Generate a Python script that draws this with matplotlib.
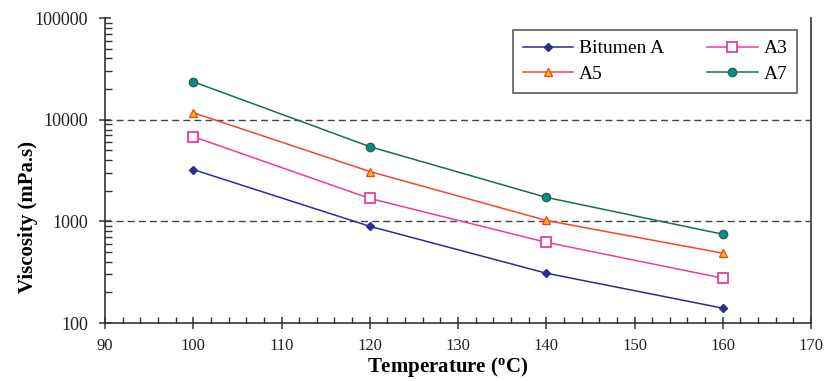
import matplotlib
matplotlib.use("Agg")
import matplotlib.pyplot as plt
from matplotlib.ticker import MultipleLocator, LogLocator, NullFormatter, FixedLocator

plt.rcParams['font.family'] = ['Liberation Serif', 'DejaVu Serif']

temperature = [100, 120, 140, 160]
bitumen_a = [3230, 894, 309, 140]
a3 = [6810, 1680, 622, 276]
a5 = [11700, 3090, 1020, 486]
a7 = [23600, 5430, 1720, 747]
grid_levels = [1000, 10000]
y_ticks = [100, 1000, 10000, 100000]
x_ticks = [90, 100, 110, 120, 130, 140, 150, 160, 170]

fig = plt.figure(figsize=(8.3, 3.81), dpi=100)
ax = fig.add_axes([105/830, 1-323/381, (811-105)/830, (323-18)/381])

ax.set_yscale('log')
ax.set_xlim(90, 170)
ax.set_ylim(100, 100000)

for lvl in grid_levels:
    ax.axhline(lvl, color='#444444', linestyle=(0, (5, 3)), linewidth=1.0, zorder=1)

l1, = ax.plot(temperature, bitumen_a, color='#2e2e8c', marker='D', markersize=4.5,
              markerfacecolor='#2e2e8c', markeredgecolor='#2e2e8c', linewidth=1.1, label='Bitumen A', zorder=3)
l2, = ax.plot(temperature, a3, color='#ec3d9c', marker='s', markersize=7,
              markerfacecolor='white', markeredgecolor='#ec3d9c', markeredgewidth=1.3, linewidth=1.1, label='A3', zorder=3)
l3, = ax.plot(temperature, a5, color='#f2452e', marker='^', markersize=6,
              markerfacecolor='#f5c400', markeredgecolor='#f2452e', linewidth=1.1, label='A5', zorder=3)
l4, = ax.plot(temperature, a7, color='#1f6b4c', marker='o', markersize=6,
              markerfacecolor='#0f8a8a', markeredgecolor='#1f6b4c', linewidth=1.1, label='A7', zorder=3)

ax.spines['top'].set_visible(False)
for s in ['left', 'bottom', 'right']:
    ax.spines[s].set_linewidth(1.2)
    ax.spines[s].set_color('#333333')

ax.xaxis.set_major_locator(FixedLocator(x_ticks))
ax.xaxis.set_minor_locator(MultipleLocator(2))
ax.yaxis.set_major_locator(FixedLocator(y_ticks))
ax.yaxis.set_minor_locator(LogLocator(base=10, subs=range(2, 10)))
ax.yaxis.set_minor_formatter(NullFormatter())
ax.set_yticklabels([str(v) for v in y_ticks])
ax.set_xticklabels([str(v) for v in x_ticks])

ax.tick_params(axis='both', which='major', direction='inout', length=8, width=1.1,
               colors='#333333', labelcolor='#222222')
ax.tick_params(axis='x', which='major', labelsize=12, pad=7)
ax.tick_params(axis='y', which='major', labelsize=13, pad=8)
ax.tick_params(axis='x', which='minor', direction='in', length=4, width=1.0, colors='#333333')
ax.tick_params(axis='y', which='minor', direction='in', length=5, width=1.0, colors='#333333')

ax.set_xlabel('Temperature (' + r'$\mathregular{^o}$' + 'C)', fontsize=15, fontweight='bold')
ax.xaxis.set_label_coords((448-105)/706, (323-355)/305)
ax.set_ylabel('Viscosity (mPa.s)', fontsize=15, fontweight='bold')
ax.yaxis.set_label_coords((38-105)/706, (323-217)/305)

leg = ax.legend(handles=[l1, l3, l2, l4], ncol=2, loc='upper right',
                fontsize=14, frameon=True, fancybox=False, edgecolor='#333333',
                handlelength=2.6, columnspacing=2.2, handletextpad=0.3, borderpad=0.5,
                labelspacing=0.42, borderaxespad=0)
leg.set_bbox_to_anchor((797/830, 1-30/381), transform=fig.transFigure)
leg.get_frame().set_linewidth(1.2)

fig.savefig('out.png', dpi=100)
